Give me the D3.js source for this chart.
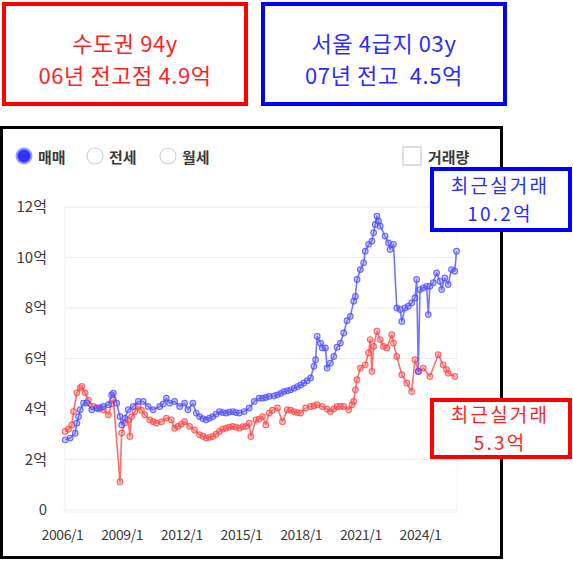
<!DOCTYPE html>
<html><head><meta charset="utf-8">
<script src="https://cdn.jsdelivr.net/npm/d3@7/dist/d3.min.js"></script>
<style>
html,body{margin:0;padding:0;background:#fff;}
svg{display:block;font-family:"Noto Sans CJK KR","Noto Sans",sans-serif;}
</style></head>
<body>
<script>
// ---- data ----
const redDates = ["2006-03","2006-05","2006-07","2006-08","2006-10","2006-12","2007-01","2007-03","2007-05","2007-08","2007-11","2008-02","2008-05","2008-07","2008-08","2008-12","2009-01","2009-03","2009-05","2009-06","2009-07","2009-09","2009-11","2010-01","2010-03","2010-06","2010-08","2010-10","2011-01","2011-04","2011-07","2011-09","2011-11","2012-01","2012-03","2012-06","2012-09","2012-12","2013-02","2013-04","2013-06","2013-08","2013-10","2013-12","2014-02","2014-04","2014-06","2014-08","2014-10","2014-12","2015-02","2015-04","2015-06","2015-07","2015-10","2015-12","2016-02","2016-04","2016-06","2016-08","2016-11","2017-02","2017-05","2017-07","2017-09","2017-11","2018-01","2018-04","2018-07","2018-09","2018-11","2019-02","2019-05","2019-07","2019-09","2019-11","2020-01","2020-03","2020-06","2020-08","2020-09","2020-10","2020-11","2021-01","2021-04","2021-06","2021-07","2021-08","2021-09","2021-11","2022-01","2022-03","2022-05","2022-08","2022-09","2022-11","2023-02","2023-05","2023-08","2023-10","2023-12","2024-03","2024-07","2024-12","2025-03","2025-05","2025-06","2025-10"];
const redValues = [3.11,3.2,3.37,3.9,4.64,4.84,4.9,4.64,4.35,4.1,4.0,3.97,3.77,4.2,4.37,1.12,3.05,3.45,3.57,2.91,3.7,3.9,4.1,3.95,3.77,3.57,3.5,3.44,3.5,3.64,3.57,3.24,3.31,3.4,3.5,3.31,3.17,2.98,2.92,2.85,2.88,2.91,3.0,3.11,3.2,3.24,3.28,3.31,3.28,3.24,3.3,3.31,3.44,2.91,3.57,3.6,3.7,3.37,3.84,3.95,4.04,3.5,3.97,3.95,3.9,3.86,3.84,4.04,4.1,4.12,4.17,4.1,4.0,3.9,4.0,4.1,4.1,4.1,3.97,4.17,4.3,4.76,5.16,5.62,5.75,6.22,6.75,5.49,6.48,7.08,6.75,6.48,6.42,6.94,6.61,6.08,5.36,5.03,4.69,5.95,5.49,5.62,5.29,6.15,5.75,5.56,5.42,5.29];

const blueDates = ["2006-03","2006-06","2006-09","2006-10","2006-11","2006-12","2007-02","2007-04","2007-07","2007-10","2007-12","2008-02","2008-05","2008-07","2008-08","2008-10","2008-12","2009-01","2009-03","2009-05","2009-08","2009-11","2010-02","2010-05","2010-08","2010-12","2011-02","2011-04","2011-06","2011-09","2011-12","2012-03","2012-05","2012-08","2012-10","2012-12","2013-02","2013-04","2013-06","2013-08","2013-10","2013-12","2014-02","2014-04","2014-06","2014-08","2014-10","2014-12","2015-03","2015-06","2015-09","2015-12","2016-02","2016-04","2016-06","2016-09","2016-11","2017-01","2017-03","2017-05","2017-07","2017-09","2017-11","2018-01","2018-03","2018-05","2018-07","2018-09","2018-10","2018-11","2019-01","2019-02","2019-04","2019-05","2019-07","2019-09","2019-11","2020-01","2020-03","2020-05","2020-07","2020-09","2020-10","2020-11","2021-01","2021-03","2021-04","2021-06","2021-08","2021-09","2021-10","2021-11","2021-12","2022-01","2022-04","2022-06","2022-07","2022-09","2022-11","2023-01","2023-02","2023-04","2023-06","2023-08","2023-10","2023-11","2023-12","2024-01","2024-03","2024-05","2024-06","2024-07","2024-09","2024-11","2025-01","2025-02","2025-04","2025-06","2025-08","2025-10","2025-11"];
const blueValues = [2.78,2.85,3.04,3.44,3.7,3.97,4.23,4.24,3.97,4.04,4.05,4.1,4.17,4.56,4.63,4.23,3.7,3.37,3.64,3.97,4.1,4.3,4.3,4.1,3.97,4.1,4.2,4.43,4.23,4.3,4.1,4.23,3.97,4.23,3.84,3.7,3.62,3.57,3.64,3.7,3.8,3.9,3.86,3.84,3.88,3.9,3.86,3.84,3.9,4.04,4.3,4.43,4.43,4.46,4.5,4.52,4.56,4.62,4.69,4.72,4.76,4.82,4.89,4.95,5.03,5.12,5.23,5.69,5.95,6.88,6.61,6.42,6.42,5.62,5.82,6.08,6.45,6.61,7.01,7.5,7.67,8.27,8.46,9.13,9.52,9.79,10.25,10.52,10.65,10.98,11.31,11.64,11.44,11.24,10.85,10.58,10.32,10.52,8.0,7.94,7.47,8.0,8.07,8.2,8.4,9.13,5.49,8.73,8.8,8.86,7.74,8.86,9.0,9.39,9.06,8.73,9.19,8.93,9.52,9.46,10.25];

const yTickValues = [0,2,4,6,8,10,12];
const yTickLabels = ["0","2억","4억","6억","8억","10억","12억"];
const xTickLabels = ["2006/1","2009/1","2012/1","2015/1","2018/1","2021/1","2024/1"];

const legendItems = ["매매","전세","월세"];

// ---- drawing ----
const W = 573, H = 561;
const svg = d3.select("body").append("svg").attr("width", W).attr("height", H);
svg.append("rect").attr("width", W).attr("height", H).attr("fill", "#fff");

const parse = d3.timeParse("%Y-%m");
const parseTick = d3.timeParse("%Y/%m");

const x = d3.scaleTime().domain([new Date(2006,0,1), new Date(2026,0,1)]).range([62, 459.8]);
const y = d3.scaleLinear().domain([0,12]).range([510, 207]);

// multi-line text as one element
function multiText(cx, firstY, lineGap, size, spacing, color, lines) {
  const t = svg.append("text").attr("text-anchor", "middle").attr("font-size", size)
    .attr("letter-spacing", spacing).attr("fill", color).style("white-space", "pre");
  lines.forEach((s, i) => {
    t.append("tspan").attr("x", cx).attr("y", firstY + i * lineGap).text(s);
  });
}

// title boxes
function titleBox(x0, color, textColor, lines) {
  svg.append("rect").attr("x", x0).attr("y", 4).attr("width", 242).attr("height", 100)
    .attr("fill", "#fff").attr("stroke", color).attr("stroke-width", 4);
  multiText(x0 + 121, 52, 32, 22, "0.6", textColor, lines);
}
titleBox(4, "#ff0000", "#ff1f1f", ["수도권 94y", "06년 전고점 4.9억"]);
titleBox(263, "#0000ff", "#2b2bff", ["서울 4급지 03y", "07년 전고  4.5억"]);

// chart frame
svg.append("rect").attr("x", 1.5).attr("y", 127.5).attr("width", 500).attr("height", 430)
  .attr("fill", "#fff").attr("stroke", "#000").attr("stroke-width", 3);

// legend
const legendX = [24, 95, 168];
legendItems.forEach((t, i) => {
  const g = svg.append("g");
  if (i === 0) {
    g.append("circle").attr("cx", legendX[i]).attr("cy", 156).attr("r", 8.5).attr("fill", "#9a9aff");
    g.append("circle").attr("cx", legendX[i]).attr("cy", 156).attr("r", 6.5).attr("fill", "#3333ff");
  } else {
    g.append("circle").attr("cx", legendX[i]).attr("cy", 156).attr("r", 8).attr("fill", "#fff")
      .attr("stroke", "#d0d0d0").attr("stroke-width", 1.2);
  }
  g.append("text").attr("x", legendX[i] + 14).attr("y", 156).attr("dominant-baseline", "central")
    .attr("font-size", 15).attr("font-weight", 700).attr("fill", "#3a3a3a").text(t);
});
svg.append("rect").attr("x", 403).attr("y", 147).attr("width", 18).attr("height", 18)
  .attr("fill", "#fff").attr("stroke", "#c8c8c8").attr("stroke-width", 1.2);
svg.append("text").attr("x", 428).attr("y", 156).attr("dominant-baseline", "central")
  .attr("font-size", 15).attr("font-weight", 700).attr("fill", "#3a3a3a").text("거래량");

// plot border + grid
svg.append("rect").attr("x", 65).attr("y", y(12)).attr("width", 392).attr("height", y(0) - y(12) + 2)
  .attr("fill", "none").attr("stroke", "#f2f2f2").attr("stroke-width", 1);
svg.append("g").selectAll("line").data(yTickValues).join("line")
  .attr("x1", 65).attr("x2", 457).attr("y1", d => y(d)).attr("y2", d => y(d))
  .attr("stroke", "#eeeeee").attr("stroke-width", 1);

// y axis labels
const yAxis = d3.axisLeft(y).tickValues(yTickValues).tickSize(0).tickPadding(0)
  .tickFormat((d, i) => yTickLabels[i]);
const gy = svg.append("g").attr("transform", "translate(47,0)").call(yAxis);
gy.select(".domain").remove();
gy.selectAll("text").attr("font-size", 15).attr("fill", "#3c3c3c")
  .attr("font-family", "'Noto Sans CJK KR','Noto Sans',sans-serif");

// x axis labels
const xTickDates = xTickLabels.map(parseTick);
const xAxis = d3.axisBottom(x).tickValues(xTickDates).tickSize(0).tickPadding(0)
  .tickFormat((d, i) => xTickLabels[i]);
const gx = svg.append("g").attr("transform", "translate(0,530)").call(xAxis);
gx.select(".domain").remove();
gx.selectAll("text").attr("font-size", 14).attr("fill", "#3c3c3c").attr("letter-spacing", "-0.4")
  .attr("font-family", "'Noto Sans CJK KR','Noto Sans',sans-serif");

// series
function drawSeries(dates, values, lineColor, fillColor) {
  const data = dates.map((d, i) => ({ date: parse(d), v: values[i] }));
  const line = d3.line().x(d => x(d.date)).y(d => y(d.v));
  svg.append("path").datum(data).attr("d", line).attr("fill", "none")
    .attr("stroke", lineColor).attr("stroke-width", 1.6).attr("stroke-linejoin", "round");
  svg.append("g").selectAll("circle").data(data).join("circle")
    .attr("cx", d => x(d.date)).attr("cy", d => y(d.v)).attr("r", 2.8)
    .attr("fill", fillColor).attr("stroke", lineColor).attr("stroke-width", 1.2);
}
drawSeries(redDates, redValues, "rgba(255,60,60,0.75)", "rgba(255,120,120,0.35)");
drawSeries(blueDates, blueValues, "rgba(70,70,255,0.75)", "rgba(120,120,255,0.35)");

// annotation boxes
function annot(yTop, h, color, textColor, lines) {
  svg.append("rect").attr("x", 432).attr("y", yTop).attr("width", 138).attr("height", h)
    .attr("fill", "#fff").attr("stroke", color).attr("stroke-width", 4);
  const mid = yTop + h / 2;
  multiText(500, mid - 7, 28, 19, "2.2", textColor, lines);
}
annot(169, 61, "#0000ff", "#2b2bff", ["최근실거래", "10.2억"]);
annot(400, 57, "#ff0000", "#ff1f1f", ["최근실거래", "5.3억"]);
</script>
</body></html>
